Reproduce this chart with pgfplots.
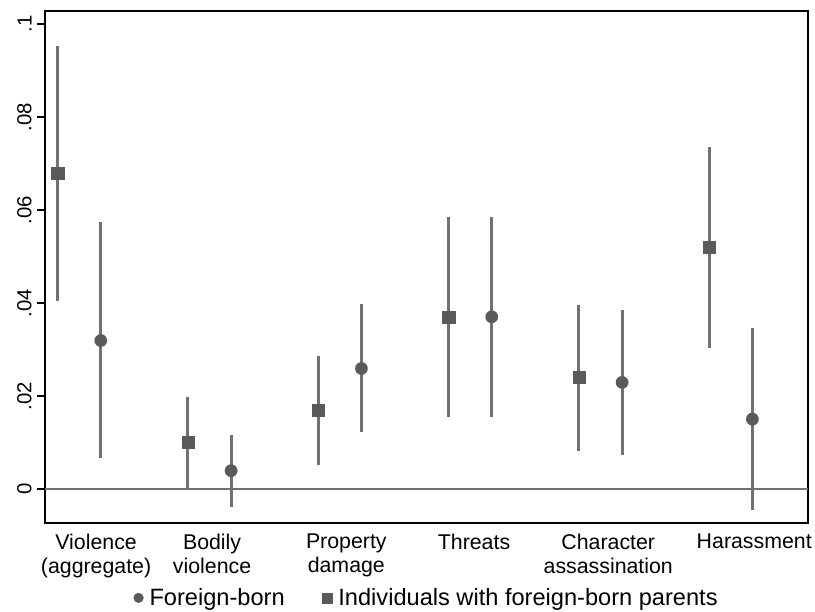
\documentclass[border=0pt]{standalone}
\usepackage{fontspec}
\setmainfont{Liberation Sans}
\usepackage{pgfplots}
\usepackage{pgfplotstable}
\pgfplotsset{compat=1.18}
\definecolor{mk}{HTML}{5A5A5A}
\definecolor{ln}{HTML}{717171}
\newcommand{\yl}[1]{\mbox{\fontsize{20.5}{24}\selectfont #1}}

% estimate, lower and upper bound of the interval
\pgfplotstableread{
x y lo hi
0.834 0.0680 0.0405 0.0953
1.834 0.0100 0.0000 0.0197
2.834 0.0169 0.0052 0.0286
3.834 0.0370 0.0154 0.0585
4.834 0.0240 0.0082 0.0396
5.834 0.0520 0.0304 0.0735
}\parents
\pgfplotstableread{
x y lo hi
1.166 0.0319 0.0066 0.0575
2.166 0.0039 -0.0039 0.0116
3.166 0.0259 0.0122 0.0397
4.166 0.0370 0.0154 0.0585
5.166 0.0229 0.0073 0.0385
6.166 0.0150 -0.0045 0.0345
}\foreign

\begin{document}
\begin{tikzpicture}
\begin{axis}[
    scale only axis,
    width=767bp, height=514bp,
    xmin=0.7364, xmax=6.596,
    ymin=-0.00728, ymax=0.1028,
    axis line style={line width=2bp, black},
    tick pos=left,
    tick align=outside,
    major tick length=8bp,
    xtick={1.13,2.02,3.05,4.03,5.06,6.18},
    xticklabels={Violence\\(aggregate), Bodily\\violence, Property\\damage,
                 Threats, Character\\assassination, Harassment},
    xtick style={draw=none},
    xticklabel style={align=center, anchor=north, inner ysep=3bp,
                      font=\fontsize{21.5}{24.5}\selectfont},
    ytick={0,0.02,0.04,0.06,0.08,0.1},
    yticklabels={\yl{0},\yl{.02},\yl{.04},\yl{.06},\yl{.08},\yl{.1}},
    ytick style={line width=2bp, black},
    yticklabel style={rotate=90, anchor=south, inner ysep=5bp},
    legend columns=2,
    legend cell align=left,
    legend style={draw=none, at={(0.5,-0.147)}, anchor=center,
                  font=\fontsize{23.8}{26}\selectfont,
                  /tikz/every odd column/.append style={column sep=4bp},
                  /tikz/every even column/.append style={column sep=36bp}},
    legend image code/.code={\draw[#1, mark size=5bp] plot coordinates {(0bp,0bp)};},
]
% zero line
\addplot[forget plot, ln, line width=2bp] coordinates {(0.7364,0) (6.596,0)};

% intervals
\addplot[forget plot, only marks, mark=none,
    error bars/.cd, y dir=both, y explicit, error mark=none,
    error bar style={line width=3bp, ln}]
    table[x=x, y=y, y error plus expr=\thisrow{hi}-\thisrow{y},
          y error minus expr=\thisrow{y}-\thisrow{lo}] {\parents};
\addplot[forget plot, only marks, mark=none,
    error bars/.cd, y dir=both, y explicit, error mark=none,
    error bar style={line width=3bp, ln}]
    table[x=x, y=y, y error plus expr=\thisrow{hi}-\thisrow{y},
          y error minus expr=\thisrow{y}-\thisrow{lo}] {\foreign};

% point estimates
\addplot[only marks, mark=*, mark size=6.3bp,
    mark options={fill=mk, draw=mk, line width=0.1bp}]
    table[x=x, y=y] {\foreign};
\addplot[only marks, mark=square*, mark size=6.2bp,
    mark options={fill=mk, draw=mk, line width=0.1bp}]
    table[x=x, y=y] {\parents};
\legend{Foreign-born, Individuals with foreign-born parents}
\end{axis}
\path (current axis.south west) ++(-45bp,-85bp);
\path (current axis.north east) ++(3bp,11bp);
\end{tikzpicture}
\end{document}
